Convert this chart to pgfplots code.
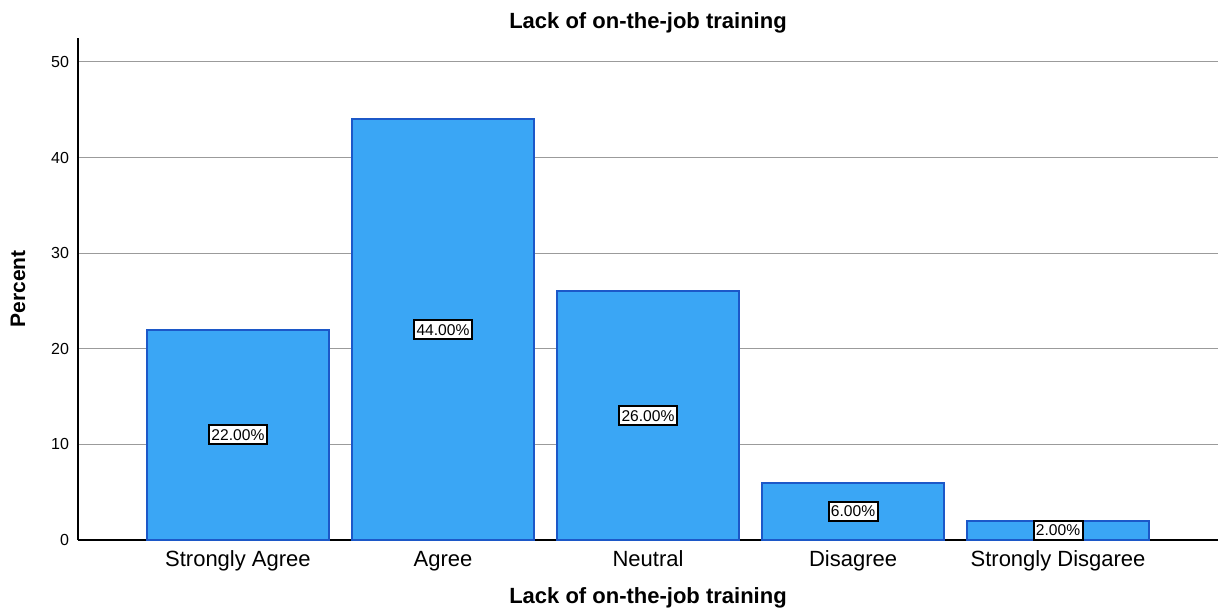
\documentclass[border=0pt]{standalone}
\usepackage{pgfplots}
\pgfplotsset{compat=1.18}
\usetikzlibrary{calc}
\usepackage{fontspec}
\setmainfont{Liberation Sans}
\definecolor{barfill}{RGB}{58,166,245}
\definecolor{baredge}{RGB}{28,88,200}
\definecolor{gridgray}{RGB}{155,155,155}

\begin{document}
\begin{tikzpicture}
\begin{axis}[
  name=ax,
  scale only axis,
  width=570pt, height=251pt,
  xmin=0.22, xmax=5.78,
  ymin=0, ymax=52.5,
  axis x line*=bottom,
  axis y line*=left,
  axis line style={line width=0.9pt, black},
  xtick={1,2,3,4,5},
  xticklabels={Strongly Agree, Agree, Neutral, Disagree, Strongly Disgaree},
  ytick={0,10,20,30,40,50},
  major tick length=0pt,
  ymajorgrids,
  grid style={gridgray, line width=0.5pt},
  xticklabel style={font=\fontsize{11}{13}\selectfont, anchor=base, yshift=-13pt},
  yticklabel style={font=\fontsize{8}{10}\selectfont, anchor=east, xshift=-1pt},
  /pgf/number format/assume math mode=true,
  title={\textbf{Lack of on-the-job training}},
  every axis title/.style={font=\fontsize{11}{13}\selectfont, at={(axis description cs:0.5,1.0199)}, anchor=base},
  xlabel={\textbf{Lack of on-the-job training}},
  xlabel style={font=\fontsize{11}{13}\selectfont, at={(axis description cs:0.5,-0.1255)}, anchor=base},
  ylabel={\textbf{Percent}},
  ylabel style={font=\fontsize{10.5}{12}\selectfont, at={(axis description cs:-0.0526,0.5)}, anchor=center},
]
\addplot[ybar, bar width=0.888, fill=barfill, draw=baredge, line width=1pt]
  coordinates {(1,22) (2,44) (3,26) (4,6) (5,2)};

% labels at half height of each bar
\addplot[only marks, mark=none, point meta=explicit symbolic,
  nodes near coords,
  every node near coord/.style={anchor=center, fill=white, draw=black,
    line width=1pt, inner xsep=1.2pt, inner ysep=2pt, font=\fontsize{7.8}{9}\selectfont}]
  coordinates {(1,11)[22.00\%] (2,22)[44.00\%] (3,13)[26.00\%] (4,3)[6.00\%] (5,1)[2.00\%]};
\end{axis}
\pgfresetboundingbox
\path ($(ax.south west)+(-39pt,-35.5pt)$) rectangle ($(ax.north east)+(1.5pt,19pt)$);
\end{tikzpicture}
\end{document}
